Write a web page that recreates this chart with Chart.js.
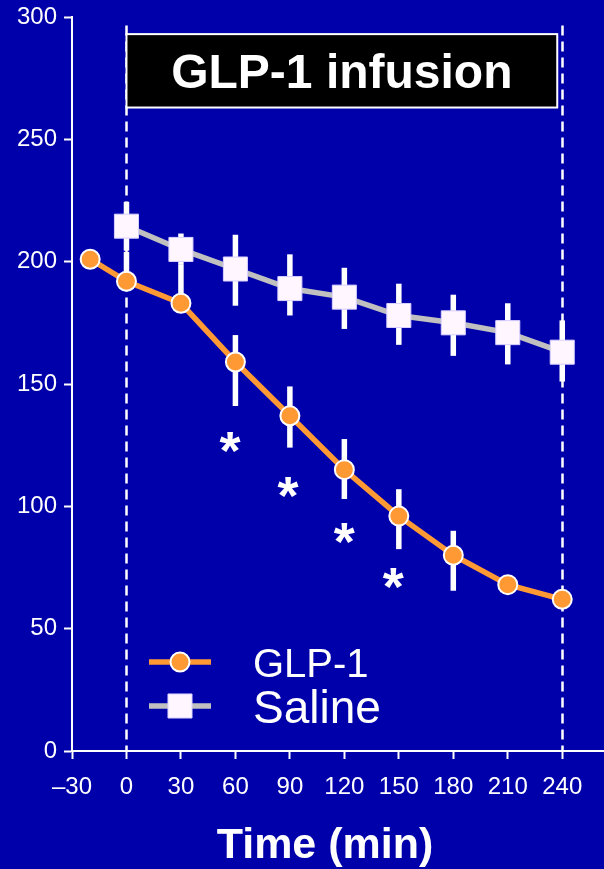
<!DOCTYPE html>
<html lang="en">
<head>
    <meta charset="UTF-8">
    <title>GLP-1 infusion</title>
    <script src="https://cdn.jsdelivr.net/npm/chart.js@4.4.0/dist/chart.umd.min.js"></script>
    <style>
        body { margin: 0; background: #0000aa; }
        canvas { display: block; }
    </style>
</head>
<body>
    <canvas id="chart" width="604" height="869"></canvas>

    <script>
        // sampling times (min)
        const glpTimes = [-20, 0, 30, 60, 90, 120, 150, 180, 210, 240];
        const salineTimes = [0, 30, 60, 90, 120, 150, 180, 210, 240];

        // GLP-1 group, mean with error bar ends
        const glpMean = [201, 192, 183, 159, 137, 115, 96, 80, 68, 62];
        const glpHigh = [203, 204, 199, 170, 149, 127.5, 107, 90, 70, 64];
        const glpLow  = [199, 189, 180, 141, 124, 103, 82.5, 65.5, 66, 60];

        // saline group
        const salineMean = [214.5, 205, 197, 189, 185.5, 178, 175, 171, 163];
        const salineHigh = [224.5, 211.5, 211, 203, 197.5, 191, 186.5, 183, 176];
        const salineLow  = [204.5, 199, 182, 178, 172.5, 166, 161.5, 158, 151];

        // significance markers (*)
        const starTimes = [57, 89, 120, 147];
        const starLevels = [125, 106.5, 88, 69.5];

        const xTicks = [-30, 0, 30, 60, 90, 120, 150, 180, 210, 240];
        const yTicks = [0, 50, 100, 150, 200, 250, 300];

        const infusionStart = 0;
        const infusionEnd = 240;

        const bgColor = '#0000aa';
        const textFont = "'Liberation Sans', Arial, sans-serif";

        Chart.defaults.font.family = textFont;
        Chart.defaults.color = '#ffffff';

        const toPoints = (xs, ys) => xs.map((x, i) => ({x: x, y: ys[i]}));

        const background = {
            id: 'background',
            beforeDraw(chart) {
                const ctx = chart.ctx;
                ctx.save();
                ctx.fillStyle = bgColor;
                ctx.fillRect(0, 0, chart.width, chart.height);
                ctx.restore();
            }
        };

        // dashed infusion lines, label box and error bars under the series
        const underlay = {
            id: 'underlay',
            beforeDatasetsDraw(chart) {
                const ctx = chart.ctx;
                const xs = chart.scales.x;
                const ys = chart.scales.y;
                ctx.save();

                ctx.strokeStyle = '#ffffff';
                ctx.lineWidth = 2.5;
                ctx.setLineDash([10, 6]);
                [infusionStart, infusionEnd].forEach(t => {
                    const px = Math.round(xs.getPixelForValue(t)) + 0.5;
                    ctx.beginPath();
                    ctx.moveTo(px, ys.getPixelForValue(296.5));
                    ctx.lineTo(px, ys.getPixelForValue(0));
                    ctx.stroke();
                });
                ctx.setLineDash([]);

                // "GLP-1 infusion" box
                const bx0 = xs.getPixelForValue(infusionStart);
                const bx1 = xs.getPixelForValue(infusionEnd) - 5;
                const by0 = ys.getPixelForValue(293);
                const by1 = ys.getPixelForValue(263);
                ctx.fillStyle = '#000000';
                ctx.fillRect(bx0, by0, bx1 - bx0, by1 - by0);
                ctx.lineWidth = 2;
                ctx.strokeStyle = '#ffffff';
                ctx.strokeRect(bx0, by0, bx1 - bx0, by1 - by0);
                ctx.fillStyle = '#ffffff';
                ctx.font = 'bold 48px ' + textFont;
                ctx.textAlign = 'center';
                ctx.textBaseline = 'middle';
                ctx.fillText('GLP-1 infusion', (bx0 + bx1) / 2, (by0 + by1) / 2 + 4);

                // error bars
                ctx.strokeStyle = '#ffffff';
                ctx.lineWidth = 5.5;
                chart.data.datasets.forEach((ds, di) => {
                    const meta = chart.getDatasetMeta(di);
                    meta.data.forEach((pt, i) => {
                        ctx.beginPath();
                        ctx.moveTo(pt.x, ys.getPixelForValue(ds.errHigh[i]));
                        ctx.lineTo(pt.x, ys.getPixelForValue(ds.errLow[i]));
                        ctx.stroke();
                    });
                });
                ctx.restore();
            }
        };

        // asterisks, legend and axis title on top
        const overlay = {
            id: 'overlay',
            afterDatasetsDraw(chart) {
                const ctx = chart.ctx;
                const xs = chart.scales.x;
                const ys = chart.scales.y;
                ctx.save();
                ctx.fillStyle = '#ffffff';
                ctx.textAlign = 'center';
                ctx.textBaseline = 'middle';
                ctx.font = 'bold 54px ' + textFont;
                starTimes.forEach((t, i) => {
                    ctx.fillText('*', xs.getPixelForValue(t), ys.getPixelForValue(starLevels[i]) + 9);
                });

                // x axis title sits a little left of the scale centre
                ctx.font = 'bold 43px ' + textFont;
                ctx.fillText('Time (min)', 325, 846);

                // legend: line sample with marker, then the name
                const rows = [
                    {ds: chart.data.datasets[0], y: 662, size: 40, base: 677},
                    {ds: chart.data.datasets[1], y: 706, size: 46, base: 723}
                ];
                rows.forEach(r => {
                    ctx.strokeStyle = r.ds.borderColor;
                    ctx.lineWidth = r.ds.borderWidth;
                    ctx.beginPath();
                    ctx.moveTo(149, r.y);
                    ctx.lineTo(211, r.y);
                    ctx.stroke();
                    ctx.fillStyle = r.ds.pointBackgroundColor;
                    ctx.strokeStyle = r.ds.pointBorderColor;
                    ctx.lineWidth = r.ds.pointBorderWidth;
                    ctx.beginPath();
                    if (r.ds.pointStyle === 'circle') {
                        ctx.arc(180, r.y, r.ds.pointRadius, 0, Math.PI * 2);
                    } else {
                        const s = r.ds.pointRadius * Math.SQRT1_2;
                        ctx.rect(180 - s, r.y - s, 2 * s, 2 * s);
                    }
                    ctx.fill();
                    ctx.stroke();

                    ctx.fillStyle = '#ffffff';
                    ctx.font = r.size + 'px ' + textFont;
                    ctx.textAlign = 'left';
                    ctx.textBaseline = 'alphabetic';
                    ctx.fillText(r.ds.label, 253, r.base);
                });
                ctx.restore();
            }
        };

        const ctx = document.getElementById('chart').getContext('2d');
        new Chart(ctx, {
            type: 'line',
            data: {
                datasets: [{
                    label: 'GLP-1',
                    data: toPoints(glpTimes, glpMean),
                    errHigh: glpHigh,
                    errLow: glpLow,
                    borderColor: '#ff9933',
                    borderWidth: 5.5,
                    pointStyle: 'circle',
                    pointRadius: 9.5,
                    pointBackgroundColor: '#ff9933',
                    pointBorderColor: '#ffffff',
                    pointBorderWidth: 2,
                    tension: 0
                }, {
                    label: 'Saline',
                    data: toPoints(salineTimes, salineMean),
                    errHigh: salineHigh,
                    errLow: salineLow,
                    borderColor: '#c0c0c0',
                    borderWidth: 5.5,
                    pointStyle: 'rect',
                    pointRadius: 17,
                    pointBackgroundColor: '#fff6ff',
                    pointBorderColor: '#d8d0ff',
                    pointBorderWidth: 1,
                    tension: 0
                }]
            },
            options: {
                responsive: false,
                animation: false,
                layout: {
                    autoPadding: false,
                    padding: {top: 17, right: 0, bottom: 0, left: 0}
                },
                plugins: {
                    legend: {display: false},
                    tooltip: {enabled: false}
                },
                scales: {
                    x: {
                        type: 'linear',
                        min: -30,
                        max: 263,
                        afterFit: s => {
                            s.height = 118;
                            s.paddingLeft = 0;
                            s.paddingRight = 0;
                        },
                        afterBuildTicks: s => { s.ticks = xTicks.map(v => ({value: v})); },
                        ticks: {
                            color: '#ffffff',
                            font: {size: 24},
                            padding: 14,
                            maxRotation: 0,
                            autoSkip: false,
                            callback: v => v < 0 ? '\u2013' + Math.abs(v) : String(v)
                        },
                        grid: {
                            drawOnChartArea: false,
                            drawTicks: true,
                            tickLength: 8,
                            tickWidth: 2,
                            tickColor: '#ffffff'
                        },
                        border: {display: true, color: '#ffffff', width: 2},
                        title: {display: false}
                    },
                    y: {
                        min: 0,
                        max: 300,
                        afterFit: s => {
                            s.width = 72;
                            s.paddingTop = 0;
                            s.paddingBottom = 0;
                        },
                        afterBuildTicks: s => { s.ticks = yTicks.map(v => ({value: v})); },
                        ticks: {
                            color: '#ffffff',
                            font: {size: 24},
                            padding: 7
                        },
                        grid: {
                            drawOnChartArea: false,
                            drawTicks: true,
                            tickLength: 8,
                            tickWidth: 2,
                            tickColor: '#ffffff'
                        },
                        border: {display: true, color: '#ffffff', width: 2}
                    }
                }
            },
            plugins: [background, underlay, overlay]
        });
    </script>
</body>
</html>
